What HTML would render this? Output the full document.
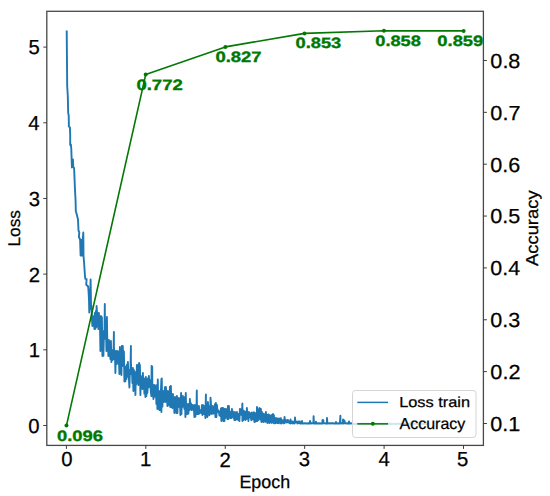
<!DOCTYPE html>
<html><head><meta charset="utf-8"><style>
html,body{margin:0;padding:0;background:#fff;width:550px;height:496px;overflow:hidden;font-family:"Liberation Sans",sans-serif;}
svg{display:block;}
</style></head><body>
<svg width="550" height="496" viewBox="0 0 550 496">
<rect width="550" height="496" fill="#fff"/>
<path d="M66.70,30.50 L67.20,86.00 L67.80,96.00 L68.20,113.50 L68.70,115.00 L68.90,126.50 L69.90,127.30 L70.20,135.00 L70.20,145.00 L70.90,144.50 L71.30,149.00 L71.90,167.50 L72.40,160.00 L72.90,159.50 L73.30,167.00 L74.10,168.00 L74.90,188.00 L75.60,201.00 L75.80,211.00 L76.90,215.00 L78.00,219.50 L78.50,230.50 L79.30,232.30 L78.90,237.00 L80.10,239.50 L80.60,255.50 L81.40,240.00 L82.00,255.50 L82.60,241.00 L83.30,232.50 L83.50,255.50 L84.10,263.00 L84.90,275.00 L85.30,278.80 L86.60,279.20 L86.20,284.50 L88.10,286.50 L88.50,290.50 L89.00,300.00 L89.30,312.50 L89.90,303.00 L90.60,279.50 L91.10,309.00 L91.60,306.00 L91.90,317.88 L92.40,326.05 L92.90,315.95 L93.40,325.67 L93.90,317.82 L94.40,329.05 L94.90,312.95 L95.40,328.84 L95.90,310.95 L96.40,327.05 L96.60,305.95 L96.90,310.95 L97.40,322.55 L97.90,313.21 L98.40,329.05 L98.90,312.95 L99.40,328.74 L99.90,318.19 L100.40,351.05 L100.90,315.95 L101.40,350.21 L101.90,317.26 L102.40,356.05 L102.90,330.95 L103.40,355.71 L103.90,335.70 L104.40,339.05 L104.80,303.95 L104.90,318.95 L105.40,333.10 L105.90,324.45 L106.40,351.05 L106.90,316.95 L107.40,347.90 L107.90,344.40 L108.40,356.05 L108.90,339.95 L109.40,349.94 L109.90,352.41 L110.40,359.05 L110.90,340.95 L111.40,362.05 L111.90,349.95 L112.40,360.17 L112.90,350.14 L113.40,359.05 L113.90,331.95 L113.90,345.95 L114.40,357.85 L114.90,351.66 L115.40,373.05 L115.90,350.95 L116.40,364.05 L116.90,350.95 L117.40,359.83 L117.90,351.30 L118.40,363.95 L118.90,356.90 L119.40,374.05 L119.90,346.95 L120.40,372.74 L120.90,352.07 L121.40,375.05 L121.90,345.95 L122.40,366.05 L122.80,345.95 L122.90,350.95 L123.40,361.16 L123.90,351.39 L124.40,381.55 L124.90,366.45 L125.40,381.23 L125.90,366.70 L126.40,379.05 L126.90,364.79 L127.40,376.65 L127.90,361.95 L128.40,374.70 L128.90,378.51 L129.40,387.55 L129.90,369.95 L130.40,374.05 L130.90,345.95 L130.90,360.95 L131.40,374.01 L131.90,368.60 L132.40,383.05 L132.90,367.95 L133.40,391.05 L133.90,369.95 L134.40,389.05 L134.90,371.83 L135.40,395.05 L135.90,372.95 L136.40,384.05 L136.90,364.95 L137.40,380.48 L137.90,365.81 L138.40,385.05 L138.90,363.45 L139.20,362.95 L139.40,379.25 L139.90,364.89 L140.40,395.05 L140.90,375.95 L141.40,385.14 L141.90,376.88 L142.40,389.05 L142.90,372.95 L143.40,388.56 L143.90,380.59 L144.40,393.65 L144.90,378.55 L145.40,397.05 L145.90,376.95 L146.40,396.06 L146.90,381.19 L147.40,392.75 L147.90,378.43 L148.40,387.55 L148.90,375.95 L149.40,386.77 L149.90,379.84 L150.40,385.86 L150.90,391.97 L151.40,396.05 L151.60,365.95 L151.90,372.95 L152.20,366.45 L152.40,395.69 L152.90,385.97 L153.40,399.05 L153.90,384.95 L154.40,396.86 L154.90,385.16 L155.40,391.32 L155.90,388.34 L156.40,404.05 L156.90,384.95 L157.40,409.05 L157.80,379.55 L157.90,385.95 L158.40,408.66 L158.90,398.73 L159.40,410.05 L159.90,390.95 L160.40,410.03 L160.90,390.94 L161.40,378.95 L161.40,412.05 L161.80,378.55 L161.90,388.95 L162.40,406.62 L162.90,391.05 L163.40,402.05 L163.90,390.95 L164.40,401.49 L164.90,387.20 L165.40,402.05 L165.90,386.95 L166.40,397.03 L166.90,392.48 L167.40,406.05 L167.90,390.95 L168.40,400.85 L168.90,391.81 L169.40,405.62 L169.90,386.68 L170.40,407.05 L170.90,385.95 L171.40,407.02 L171.90,393.95 L172.40,408.05 L172.90,393.95 L173.40,407.31 L173.90,402.22 L174.40,413.05 L174.90,396.95 L175.40,409.35 L175.90,397.61 L176.40,413.05 L176.90,395.95 L177.40,413.01 L177.90,398.17 L178.40,407.05 L178.90,397.95 L179.40,401.19 L179.90,399.01 L180.40,415.05 L180.90,398.95 L181.10,392.95 L181.40,414.11 L181.90,398.86 L182.40,407.05 L182.90,395.95 L183.40,404.75 L183.90,400.20 L184.40,409.05 L184.90,396.95 L185.40,417.05 L185.80,392.95 L185.90,398.95 L186.40,414.18 L186.90,412.26 L187.40,414.05 L187.90,403.95 L188.40,413.67 L188.90,405.14 L189.40,410.05 L189.90,398.95 L190.40,408.78 L190.90,403.16 L191.40,410.05 L191.90,404.95 L192.40,409.28 L192.90,404.96 L193.40,410.04 L193.90,408.30 L194.40,417.05 L194.90,404.95 L195.40,416.63 L195.90,405.02 L196.40,414.05 L196.80,390.55 L196.90,402.95 L197.40,414.04 L197.90,407.83 L198.40,414.05 L198.90,405.95 L199.40,413.63 L199.90,409.83 L200.40,410.63 L200.90,410.17 L201.40,413.05 L201.90,405.08 L202.40,415.05 L202.90,404.95 L203.40,414.05 L203.90,405.95 L204.40,414.05 L204.90,406.16 L205.40,418.05 L205.90,394.55 L205.90,402.95 L206.40,416.47 L206.90,406.61 L207.40,417.05 L207.90,401.95 L208.40,410.39 L208.90,406.58 L209.40,415.31 L209.90,406.05 L210.40,412.05 L210.50,397.65 L210.90,402.95 L211.40,414.05 L211.90,405.95 L212.40,413.47 L212.90,406.30 L213.40,413.61 L213.90,406.41 L214.40,409.69 L214.90,404.27 L215.40,417.05 L215.90,402.95 L216.40,417.05 L216.90,404.95 L217.40,410.19 L217.90,412.07 L218.40,410.46 L218.90,411.38 L219.40,415.40 L219.90,412.76 L220.40,416.10 L220.90,408.57 L221.40,421.05 L221.90,407.95 L222.40,413.00 L222.90,408.06 L223.40,421.02 L223.90,408.68 L224.40,421.05 L224.90,409.10 L225.40,418.05 L225.90,408.95 L226.40,412.22 L226.90,411.78 L227.40,419.05 L227.90,405.95 L228.40,419.00 L228.90,406.00 L229.40,417.54 L229.90,412.80 L230.40,418.01 L230.90,411.68 L231.40,418.05 L231.90,408.95 L232.40,414.26 L232.90,411.42 L233.40,417.77 L233.90,416.22 L234.40,420.05 L234.90,411.95 L235.40,420.04 L235.90,415.78 L236.40,419.29 L236.90,411.98 L237.40,419.47 L237.90,413.81 L238.40,419.84 L238.90,417.22 L239.40,421.05 L239.90,408.95 L240.40,414.32 L240.90,409.45 L241.40,414.79 L241.90,412.39 L242.40,403.55 L242.40,421.05 L242.90,409.95 L243.40,420.05 L243.90,410.95 L244.40,418.62 L244.90,411.64 L245.40,420.02 L245.90,412.56 L246.40,419.05 L246.90,407.95 L247.40,417.98 L247.90,412.21 L248.40,421.05 L248.90,411.95 L249.40,414.80 L249.90,413.01 L250.40,417.94 L250.90,418.05 L251.40,420.29 L251.90,412.49 L252.40,419.24 L252.90,414.86 L253.40,419.38 L253.90,412.18 L254.40,422.05 L254.90,412.95 L255.40,421.65 L255.90,413.61 L256.40,421.05 L256.90,412.95 L257.00,406.95 L257.40,420.95 L257.90,414.31 L258.40,420.05 L258.90,408.95 L259.40,414.12 L259.50,407.95 L259.90,409.08 L260.40,419.46 L260.90,408.98 L261.40,422.05 L261.90,411.95 L262.40,421.20 L262.90,413.54 L263.40,422.01 L263.90,413.97 L264.40,419.46 L264.90,417.18 L265.40,421.89 L265.90,411.96 L266.40,420.74 L266.90,414.61 L267.40,423.05 L267.90,414.95 L268.40,422.40 L268.50,414.45 L268.90,417.96 L269.40,422.94 L269.90,415.08 L270.40,419.41 L270.90,415.86 L271.40,422.92 L271.90,414.95 L272.40,422.10 L272.90,417.81 L273.00,413.95 L273.40,422.84 L273.90,415.15 L274.40,423.35 L274.90,417.95 L275.40,423.22 L275.90,418.25 L276.40,422.63 L276.90,418.19 L277.40,423.06 L277.90,418.92 L278.40,423.24 L278.90,418.41 L279.40,422.51 L279.90,418.81 L280.40,423.34 L280.90,418.10 L281.40,423.45 L281.90,419.95 L282.40,421.28 L282.90,421.16 L283.40,423.32 L283.90,420.00 L284.40,423.17 L284.50,416.95 L284.90,420.04 L285.40,421.50 L285.90,420.28 L286.40,422.63 L286.90,420.30 L287.40,422.24 L287.90,419.96 L288.40,421.75 L288.90,421.63 L289.40,423.12 L289.90,420.93 L290.40,423.55 L290.50,419.45 L290.90,421.45 L291.40,422.99 L291.90,421.62 L292.40,423.41 L292.90,421.48 L293.40,423.28 L293.90,421.97 L294.40,423.54 L294.90,421.78 L295.00,417.45 L295.40,422.64 L295.90,421.95 L296.40,422.11 L296.90,421.51 L297.40,423.54 L297.90,421.64 L298.40,423.01 L298.90,421.49 L299.40,423.34 L299.90,421.49 L300.40,423.55 L300.90,423.15 L301.40,423.46 L301.90,423.37 L302.00,420.95 L302.40,423.52 L302.90,423.24 L303.40,423.54 L303.90,423.21 L304.40,423.52 L304.90,423.22 L305.40,423.43 L305.90,423.35 L306.40,423.51 L306.90,423.15 L307.40,423.51 L307.90,423.18 L308.40,423.48 L308.90,423.16 L309.40,423.52 L309.90,423.21 L310.00,420.95 L310.40,423.50 L310.90,423.18 L311.40,423.44 L311.90,423.20 L312.40,423.38 L312.90,423.26 L313.40,423.52 L313.60,416.25 L313.90,423.19 L314.40,423.54 L314.90,423.30 L315.40,423.47 L315.90,423.19 L316.00,421.65 L316.40,423.51 L316.90,423.15 L317.40,423.54 L317.90,423.22 L318.40,423.55 L318.90,423.32 L319.40,423.45 L319.90,423.16 L320.40,423.52 L320.90,423.15 L321.40,423.54 L321.90,423.16 L322.40,423.55 L322.50,419.95 L322.90,423.27 L323.30,420.15 L323.40,423.42 L323.90,423.23 L324.40,423.33 L324.90,423.20 L325.40,423.55 L325.90,423.15 L326.40,423.48 L326.90,423.32 L327.00,417.95 L327.40,423.43 L327.90,423.17 L328.40,423.55 L328.90,423.25 L329.40,423.45 L329.90,423.26 L330.40,423.53 L330.90,423.17 L331.40,423.46 L331.90,423.22 L332.40,423.42 L332.90,423.19 L333.40,423.55 L333.90,423.21 L334.40,423.54 L334.90,423.19 L335.40,423.55 L335.90,423.25 L336.00,421.95 L336.40,423.51 L336.90,423.21 L337.40,423.54 L337.90,423.19 L338.40,423.52 L338.90,423.16 L339.40,423.49 L339.90,423.17 L340.40,415.65 L340.40,423.53 L340.90,423.28 L341.40,423.41 L341.90,423.15 L342.40,423.55 L342.90,423.21 L343.00,419.45 L343.40,423.55 L343.90,423.20 L344.40,423.34 L344.50,420.55 L344.90,423.18 L345.40,423.41 L345.90,423.16 L346.40,423.54 L346.90,423.15 L347.40,423.50 L347.90,423.16 L348.40,423.51 L348.90,423.15 L349.00,421.45 L349.40,423.54 L349.90,423.17 L350.40,423.54 L350.90,423.31 L351.40,423.39 L351.90,423.44 L352.40,423.67 L352.90,423.61 L353.40,423.91 L353.90,423.95 L354.40,423.87 L354.90,423.98 L355.40,423.84 L355.90,424.01 L356.40,423.94 L356.90,423.63 L357.40,423.70 L357.90,423.92 L358.40,423.60 L358.90,423.58 L359.40,424.07 L359.90,423.89 L360.40,423.93 L360.90,423.87 L361.40,423.53 L361.90,424.02 L362.40,423.66 L362.90,423.97 L363.40,423.68 L363.90,423.95 L364.40,423.77 L364.90,423.89 L365.40,423.51 L365.90,423.64 L366.40,423.86 L366.90,423.66 L367.40,423.67 L367.90,424.02 L368.40,423.66 L368.90,423.77 L369.40,423.83 L369.90,423.83 L370.40,423.98 L370.90,423.90 L371.40,423.98 L371.90,424.03 L372.40,424.05 L372.90,423.70 L373.40,423.98 L373.90,424.03 L374.40,423.86 L374.90,423.76 L375.40,423.87 L375.90,423.61 L376.40,423.99 L376.90,423.90 L377.40,423.98 L377.90,423.51 L378.40,424.05 L378.90,423.76 L379.40,423.82 L379.90,423.65 L380.40,424.08 L380.90,423.64 L381.40,423.75 L381.90,423.69 L382.40,424.10 L382.90,423.81 L383.40,423.75 L383.90,424.04 L384.40,423.73 L384.90,423.53 L385.40,423.88 L385.90,423.73 L386.40,423.54 L386.90,423.63 L387.40,423.81 L387.90,423.59 L388.40,423.89 L388.90,424.07 L389.40,423.69 L389.90,423.52 L390.40,423.79 L390.90,424.05 L391.40,423.86 L391.90,423.66 L392.40,424.09 L392.90,423.85 L393.40,423.81 L393.90,423.69 L394.40,423.90 L394.90,423.94 L395.40,423.82 L395.90,423.77 L396.40,424.02 L396.90,423.83 L397.40,423.53 L397.90,423.78 L398.40,423.70 L398.90,424.00 L399.40,423.91 L399.90,423.51 L400.40,423.89 L400.90,424.05 L401.40,423.79 L401.90,423.69 L402.40,423.85 L402.90,424.02 L403.40,423.87 L403.90,423.75 L404.40,423.97 L404.90,423.55 L405.40,423.66 L405.90,423.93 L406.40,423.73 L406.90,423.88 L407.40,423.87 L407.90,423.87 L408.40,424.09 L408.90,423.68 L409.40,423.54 L409.90,423.73 L410.40,423.87 L410.90,423.66 L411.40,423.68 L411.90,423.92 L412.40,423.63 L412.90,423.77 L413.40,423.53 L413.90,423.74 L414.40,423.90 L414.90,423.75 L415.40,423.62 L415.90,423.90 L416.40,423.72 L416.90,423.83 L417.40,423.89 L417.90,423.82 L418.40,423.91 L418.90,423.62 L419.40,423.54 L419.90,424.02 L420.40,424.03 L420.90,423.63 L421.40,423.57 L421.90,423.68 L422.40,424.08 L422.90,424.05 L423.40,424.07 L423.90,423.64 L424.40,423.93 L424.90,424.07 L425.40,423.78 L425.90,423.76 L426.40,423.57 L426.90,423.93 L427.40,423.90 L427.90,423.66" fill="none" stroke="#1f77b4" stroke-width="1.9" stroke-linejoin="round" stroke-linecap="butt"/>
<path d="M66.45,425.60 L145.70,74.60 L225.40,46.90 L304.50,33.40 L383.95,30.75 L463.60,30.90" fill="none" stroke="#037803" stroke-width="1.6" stroke-linejoin="round"/>
<circle cx="66.45" cy="425.60" r="2.0" fill="#037803"/>
<circle cx="145.70" cy="74.60" r="2.0" fill="#037803"/>
<circle cx="225.40" cy="46.90" r="2.0" fill="#037803"/>
<circle cx="304.50" cy="33.40" r="2.0" fill="#037803"/>
<circle cx="383.95" cy="30.75" r="2.0" fill="#037803"/>
<circle cx="463.60" cy="30.90" r="2.0" fill="#037803"/>
<rect x="46.8" y="11.3" width="436.6" height="434.1" fill="none" stroke="#484848" stroke-width="1.3"/>
<path d="M43.30,425.50H46.80M66.40,445.40V448.90M43.30,349.82H46.80M145.82,445.40V448.90M43.30,274.14H46.80M225.24,445.40V448.90M43.30,198.46H46.80M304.66,445.40V448.90M43.30,122.78H46.80M384.08,445.40V448.90M43.30,47.10H46.80M463.50,445.40V448.90M483.40,423.50H486.90M483.40,371.64H486.90M483.40,319.78H486.90M483.40,267.92H486.90M483.40,216.06H486.90M483.40,164.20H486.90M483.40,112.34H486.90M483.40,60.48H486.90" stroke="#3c3c3c" stroke-width="1.0" fill="none"/>
<text x="39.65" y="432.62" font-family="Liberation Sans, sans-serif" text-rendering="geometricPrecision" font-size="20.30" text-anchor="end" fill="#000" stroke="#000" stroke-width="0.25">0</text>
<text x="66.95" y="466.47" font-family="Liberation Sans, sans-serif" text-rendering="geometricPrecision" font-size="20.30" text-anchor="middle" fill="#000" stroke="#000" stroke-width="0.25">0</text>
<text x="39.94" y="356.66" font-family="Liberation Sans, sans-serif" text-rendering="geometricPrecision" font-size="20.30" text-anchor="end" fill="#000" stroke="#000" stroke-width="0.25">1</text>
<text x="145.71" y="466.18" font-family="Liberation Sans, sans-serif" text-rendering="geometricPrecision" font-size="20.30" text-anchor="middle" fill="#000" stroke="#000" stroke-width="0.25">1</text>
<text x="39.99" y="282.41" font-family="Liberation Sans, sans-serif" text-rendering="geometricPrecision" font-size="20.30" text-anchor="end" fill="#000" stroke="#000" stroke-width="0.25">2</text>
<text x="225.03" y="467.48" font-family="Liberation Sans, sans-serif" text-rendering="geometricPrecision" font-size="20.30" text-anchor="middle" fill="#000" stroke="#000" stroke-width="0.25">2</text>
<text x="39.91" y="205.72" font-family="Liberation Sans, sans-serif" text-rendering="geometricPrecision" font-size="20.30" text-anchor="end" fill="#000" stroke="#000" stroke-width="0.25">3</text>
<text x="304.47" y="465.73" font-family="Liberation Sans, sans-serif" text-rendering="geometricPrecision" font-size="20.30" text-anchor="middle" fill="#000" stroke="#000" stroke-width="0.25">3</text>
<text x="39.52" y="129.54" font-family="Liberation Sans, sans-serif" text-rendering="geometricPrecision" font-size="20.30" text-anchor="end" fill="#000" stroke="#000" stroke-width="0.25">4</text>
<text x="384.20" y="466.22" font-family="Liberation Sans, sans-serif" text-rendering="geometricPrecision" font-size="20.30" text-anchor="middle" fill="#000" stroke="#000" stroke-width="0.25">4</text>
<text x="39.81" y="54.21" font-family="Liberation Sans, sans-serif" text-rendering="geometricPrecision" font-size="20.30" text-anchor="end" fill="#000" stroke="#000" stroke-width="0.25">5</text>
<text x="462.73" y="466.47" font-family="Liberation Sans, sans-serif" text-rendering="geometricPrecision" font-size="20.30" text-anchor="middle" fill="#000" stroke="#000" stroke-width="0.25">5</text>
<text x="490.38" y="430.50" font-family="Liberation Sans, sans-serif" text-rendering="geometricPrecision" font-size="20.30" text-anchor="start" fill="#000" textLength="29.99" lengthAdjust="spacingAndGlyphs" stroke="#000" stroke-width="0.25">0.1</text>
<text x="490.37" y="379.11" font-family="Liberation Sans, sans-serif" text-rendering="geometricPrecision" font-size="20.30" text-anchor="start" fill="#000" textLength="30.05" lengthAdjust="spacingAndGlyphs" stroke="#000" stroke-width="0.25">0.2</text>
<text x="490.38" y="327.02" font-family="Liberation Sans, sans-serif" text-rendering="geometricPrecision" font-size="20.30" text-anchor="start" fill="#000" textLength="29.96" lengthAdjust="spacingAndGlyphs" stroke="#000" stroke-width="0.25">0.3</text>
<text x="490.39" y="274.56" font-family="Liberation Sans, sans-serif" text-rendering="geometricPrecision" font-size="20.30" text-anchor="start" fill="#000" textLength="29.76" lengthAdjust="spacingAndGlyphs" stroke="#000" stroke-width="0.25">0.4</text>
<text x="490.37" y="222.50" font-family="Liberation Sans, sans-serif" text-rendering="geometricPrecision" font-size="20.30" text-anchor="start" fill="#000" textLength="30.03" lengthAdjust="spacingAndGlyphs" stroke="#000" stroke-width="0.25">0.5</text>
<text x="490.38" y="172.47" font-family="Liberation Sans, sans-serif" text-rendering="geometricPrecision" font-size="20.30" text-anchor="start" fill="#000" textLength="29.96" lengthAdjust="spacingAndGlyphs" stroke="#000" stroke-width="0.25">0.6</text>
<text x="490.37" y="120.46" font-family="Liberation Sans, sans-serif" text-rendering="geometricPrecision" font-size="20.30" text-anchor="start" fill="#000" textLength="30.05" lengthAdjust="spacingAndGlyphs" stroke="#000" stroke-width="0.25">0.7</text>
<text x="490.38" y="68.42" font-family="Liberation Sans, sans-serif" text-rendering="geometricPrecision" font-size="20.30" text-anchor="start" fill="#000" textLength="30.01" lengthAdjust="spacingAndGlyphs" stroke="#000" stroke-width="0.25">0.8</text>
<text x="264.80" y="487.55" font-family="Liberation Sans, sans-serif" text-rendering="geometricPrecision" font-size="17.96" text-anchor="middle" fill="#000" textLength="50.67" lengthAdjust="spacingAndGlyphs" stroke="#000" stroke-width="0.25">Epoch</text>
<text transform="translate(20.38,228.33) rotate(-90)" font-family="Liberation Sans, sans-serif" text-rendering="geometricPrecision" font-size="17.00" text-anchor="middle" fill="#000" textLength="36.45" lengthAdjust="spacingAndGlyphs" stroke="#000" stroke-width="0.25">Loss</text>
<text transform="translate(537.87,228.22) rotate(-90)" font-family="Liberation Sans, sans-serif" text-rendering="geometricPrecision" font-size="17.20" text-anchor="middle" fill="#000" textLength="75.64" lengthAdjust="spacingAndGlyphs" stroke="#000" stroke-width="0.25">Accuracy</text>
<text x="57.05" y="441.46" font-family="Liberation Sans, sans-serif" text-rendering="geometricPrecision" font-weight="bold" font-size="15.00" text-anchor="start" fill="#007800" textLength="45.94" lengthAdjust="spacingAndGlyphs" stroke="#007800" stroke-width="0.35">0.096</text>
<text x="136.41" y="89.59" font-family="Liberation Sans, sans-serif" text-rendering="geometricPrecision" font-weight="bold" font-size="15.00" text-anchor="start" fill="#007800" textLength="46.38" lengthAdjust="spacingAndGlyphs" stroke="#007800" stroke-width="0.35">0.772</text>
<text x="215.41" y="61.64" font-family="Liberation Sans, sans-serif" text-rendering="geometricPrecision" font-weight="bold" font-size="15.00" text-anchor="start" fill="#007800" textLength="46.15" lengthAdjust="spacingAndGlyphs" stroke="#007800" stroke-width="0.35">0.827</text>
<text x="295.53" y="48.38" font-family="Liberation Sans, sans-serif" text-rendering="geometricPrecision" font-weight="bold" font-size="15.00" text-anchor="start" fill="#007800" textLength="45.72" lengthAdjust="spacingAndGlyphs" stroke="#007800" stroke-width="0.35">0.853</text>
<text x="375.25" y="45.80" font-family="Liberation Sans, sans-serif" text-rendering="geometricPrecision" font-weight="bold" font-size="15.00" text-anchor="start" fill="#007800" textLength="45.67" lengthAdjust="spacingAndGlyphs" stroke="#007800" stroke-width="0.35">0.858</text>
<text x="437.36" y="45.60" font-family="Liberation Sans, sans-serif" text-rendering="geometricPrecision" font-weight="bold" font-size="15.00" text-anchor="start" fill="#007800" textLength="45.92" lengthAdjust="spacingAndGlyphs" stroke="#007800" stroke-width="0.35">0.859</text>
<rect x="352.5" y="390.5" width="123.5" height="47" rx="3" ry="3" fill="#fff" fill-opacity="0.8" stroke="#d4d4d4" stroke-width="1"/>
<path d="M357.3,402.4H388.1" stroke="#1f77b4" stroke-width="1.5"/>
<path d="M357.3,423.85H388.1" stroke="#037803" stroke-width="1.5"/>
<circle cx="372.8" cy="423.85" r="2.0" fill="#037803"/>
<text x="399.15" y="406.54" font-family="Liberation Sans, sans-serif" text-rendering="geometricPrecision" font-size="14.52" text-anchor="start" fill="#000" textLength="70.91" lengthAdjust="spacingAndGlyphs" stroke="#000" stroke-width="0.25">Loss train</text>
<text x="399.54" y="428.73" font-family="Liberation Sans, sans-serif" text-rendering="geometricPrecision" font-size="15.83" text-anchor="start" fill="#000" textLength="65.78" lengthAdjust="spacingAndGlyphs" stroke="#000" stroke-width="0.25">Accuracy</text>
</svg>
</body></html>
